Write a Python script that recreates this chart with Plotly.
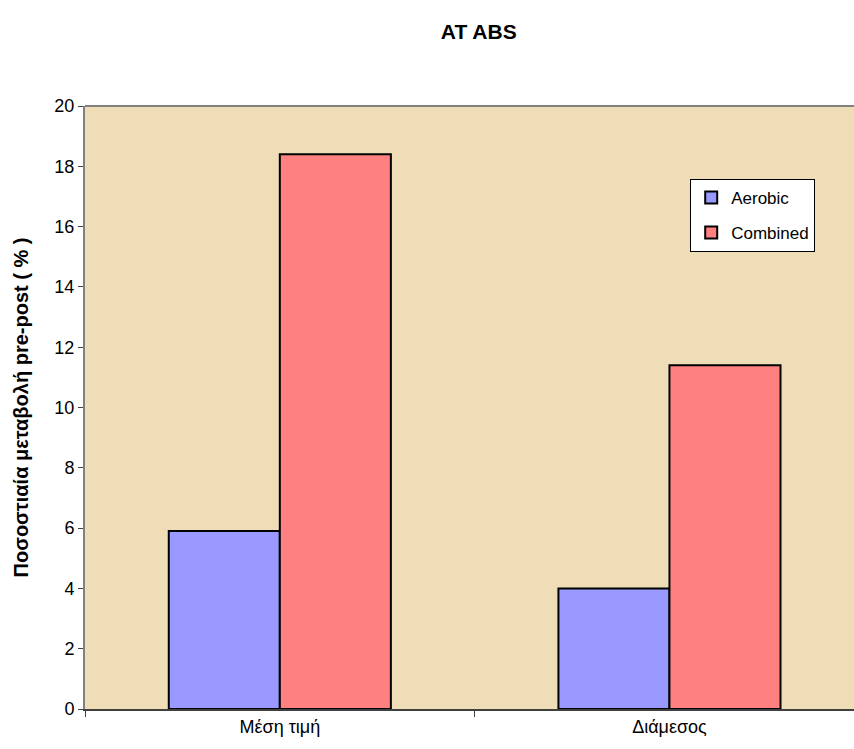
import plotly.graph_objects as go

# Categories and series values (percent change pre-post)
categories = ["Μέση τιμή", "Διάμεσος"]
aerobic = [5.9, 4.0]
combined = [18.4, 11.4]
y_ticks = [0, 2, 4, 6, 8, 10, 12, 14, 16, 18, 20]

FONT = "Arial, Liberation Sans, sans-serif"

fig = go.Figure()
fig.add_trace(go.Bar(
    name="Aerobic", x=categories, y=aerobic,
    marker=dict(color="#9999FF", line=dict(color="#000000", width=2)),
    legendgroup="a",
))
fig.add_trace(go.Bar(
    name="Combined", x=categories, y=combined,
    marker=dict(color="#FF8080", line=dict(color="#000000", width=2)),
    legendgroup="c",
))

fig.update_layout(
    width=854, height=749,
    margin=dict(l=85, r=0, t=106, b=40),
    paper_bgcolor="#FFFFFF",
    plot_bgcolor="#EFDDB8",
    barmode="group",
    bargap=0.43,
    bargroupgap=0,
    font=dict(family=FONT, color="#000000", size=17),
    title=dict(
        text="<b>AT ABS</b>",
        font=dict(family=FONT, size=21, color="#000000"),
        xref="paper", x=0.512, xanchor="center",
        yref="container", y=1 - 32 / 749, yanchor="middle",
    ),
    showlegend=True,
    legend=dict(
        x=0.787, y=0.879, xanchor="left", yanchor="top",
        bgcolor="#FFFFFF", bordercolor="#000000", borderwidth=1,
        font=dict(family=FONT, size=17, color="#000000"),
        tracegroupgap=10,
    ),
    shapes=[
        dict(type="line", xref="paper", yref="paper", x0=0, x1=1, y0=1, y1=1,
             line=dict(color="#808080", width=2)),
    ],
)

fig.update_xaxes(
    range=[-0.5, 1.4736],
    showline=True, linecolor="#404040", linewidth=2,
    ticks="outside", tickson="boundaries", ticklen=6, tickcolor="#404040", tickwidth=1,
    showgrid=False, zeroline=False,
    tickfont=dict(family=FONT, size=18),
)
fig.update_yaxes(
    range=[0, 20], tickvals=y_ticks,
    showline=True, linecolor="#808080", linewidth=2,
    ticks="outside", ticklen=5, tickcolor="#404040", tickwidth=1,
    showgrid=False, zeroline=False,
    tickfont=dict(family=FONT, size=18),
    title=dict(text="<b>Ποσοστιαία μεταβολή pre-post ( % )</b>",
               font=dict(family=FONT, size=20), standoff=20),
)

fig.write_html("out.html")
